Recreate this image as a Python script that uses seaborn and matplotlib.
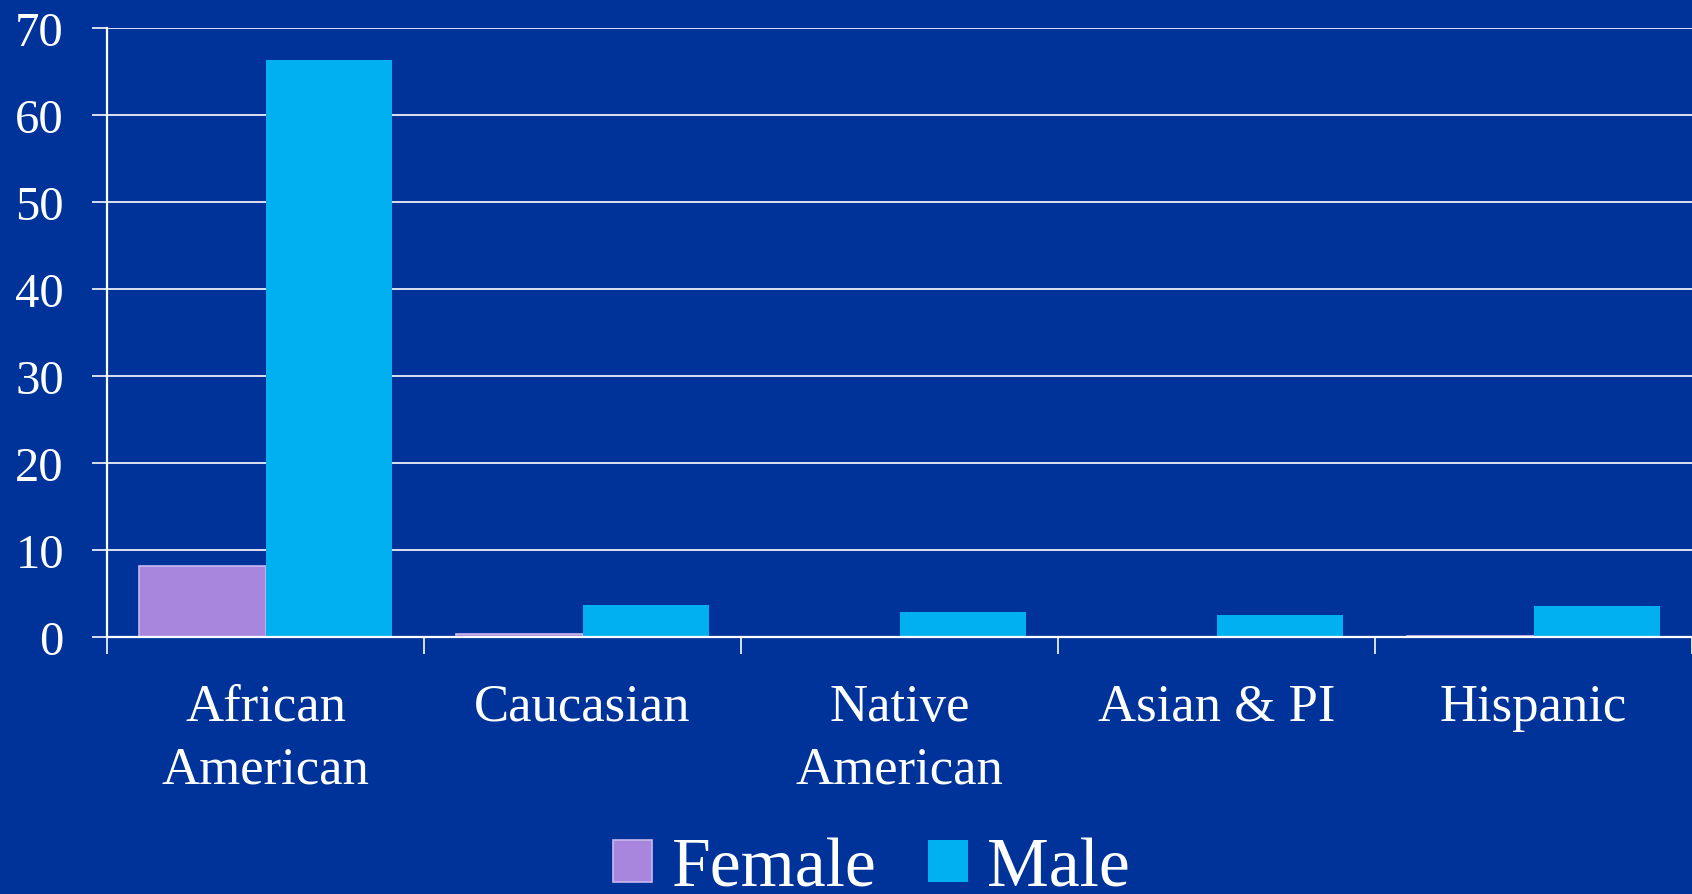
import pandas as pd
import seaborn as sns
import matplotlib.pyplot as plt

# data
groups = ["African\nAmerican", "Caucasian", "Native\nAmerican", "Asian & PI", "Hispanic"]
female = [8.2, 0.3, 0.0, 0.0, 0.15]
male = [66.3, 3.7, 2.85, 2.5, 3.6]
sexes = ["Female", "Male"]
y_ticks = [0, 10, 20, 30, 40, 50, 60, 70]

bg = "#003399"
colors = {"Female": "#A886DE", "Male": "#00B0F0"}

df = pd.DataFrame({
    "Group": groups * 2,
    "Value": female + male,
    "Sex": ["Female"] * len(groups) + ["Male"] * len(groups),
})

sns.set_style("white", {"axes.facecolor": bg, "figure.facecolor": bg})
plt.rcParams["font.family"] = ["Liberation Serif", "DejaVu Serif"]

fig = plt.figure(figsize=(16.92, 8.95), dpi=100)
ax = fig.add_axes([107 / 1692, 1 - 638 / 895, 1 - 107 / 1692, (638 - 29) / 895])

sns.barplot(data=df, x="Group", y="Value", hue="Sex", hue_order=sexes,
            order=groups, palette=colors, saturation=1, width=0.8, gap=0,
            ax=ax, legend=False, zorder=3)

# edges: lavender outline on female bars, none on zero bars
for cont, sex in zip(ax.containers, sexes):
    for p in cont.patches:
        if sex == "Female" and p.get_height() > 0:
            p.set_edgecolor("#C9B8EE")
            p.set_linewidth(1.2)
        else:
            p.set_linewidth(0)

ax.set_xlim(-0.5, len(groups) - 0.5)
ax.set_ylim(0, 70)
ax.set_yticks(y_ticks)
ax.yaxis.grid(True, color="white", linewidth=1.2, zorder=1)
ax.set_axisbelow(True)

ax.set_xticks(range(len(groups)))
ax.set_xticklabels(groups, color="white", fontsize=38, linespacing=1.4)
ax.set_xticks([i - 0.5 for i in range(len(groups) + 1)], minor=True)
ax.tick_params(axis="x", which="major", bottom=True, length=0, pad=33)
ax.tick_params(axis="x", which="minor", bottom=True, length=12, width=1.4,
               color="#D8DEF0")
ax.tick_params(axis="y", left=True, length=11, width=1.4, color="#D8DEF0",
               pad=20, labelsize=35, labelcolor="white")

ax.set_xlabel("")
ax.set_ylabel("")
for side in ["top", "right"]:
    ax.spines[side].set_visible(False)
for side in ["left", "bottom"]:
    ax.spines[side].set_color("white")
    ax.spines[side].set_linewidth(1.6)
    ax.spines[side].set_zorder(4)

handles = [plt.Rectangle((0, 0), 1, 1, facecolor=colors["Female"], edgecolor="#C9B8EE", linewidth=1.2),
           plt.Rectangle((0, 0), 1, 1, facecolor=colors["Male"], linewidth=0)]
leg = fig.legend(handles, sexes, loc="lower center", bbox_to_anchor=(0.515, -0.077),
                 ncol=2, frameon=False, fontsize=50, handlelength=0.57,
                 handleheight=0.57, handletextpad=0.28, columnspacing=0.75)
for t in leg.get_texts():
    t.set_color("white")

fig.savefig("out.png", dpi=100, facecolor=bg)
